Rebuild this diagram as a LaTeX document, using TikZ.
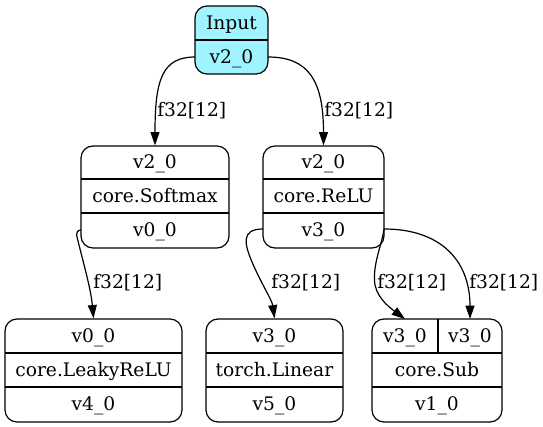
\documentclass[tikz,border=0pt]{standalone}
\usepackage{fontspec}
\setmainfont{DejaVu Serif}
\usetikzlibrary{arrows.meta,fit}
\definecolor{inpfill}{RGB}{160,244,255}
\begin{document}
\begin{tikzpicture}[x=0.75pt,y=-0.75pt,
  font=\fontsize{14pt}{16pt}\selectfont,
  box/.style={draw,line width=0.9pt,rounded corners=9pt,inner sep=0pt},
  sep/.style={line width=0.9pt},
  txt/.style={inner sep=0pt,anchor=base},
  lab/.style={inner sep=0pt,anchor=base west},
  edge/.style={line width=0.9pt,-{Triangle[length=10pt,width=6.7pt]}}]
\useasboundingbox (0,0) rectangle (543,427);
% Input
\node[box,fill=inpfill,fit={(195,6) (268,74)}] (inp) {};
\draw[sep] (195,40) -- (268,40);
\node[txt] (inpA) at (231.5,29.5) {Input};
\node[txt] (inpB) at (231.5,63.5) {v2\_0};
% Softmax
\node[box,fit={(81,146) (229,248)}] (sm) {};
\draw[sep] (81,179) -- (229,179);
\draw[sep] (81,213) -- (229,213);
\node[txt] (smA) at (155,169) {v2\_0};
\node[txt] (smB) at (155,202.5) {core.Softmax};
\node[txt] (smC) at (155,237) {v0\_0};
% ReLU
\node[box,fit={(263,146) (384,248)}] (re) {};
\draw[sep] (263,179) -- (384,179);
\draw[sep] (263,213) -- (384,213);
\node[txt] (reA) at (323.5,169) {v2\_0};
\node[txt] (reB) at (323.5,202.5) {core.ReLU};
\node[txt] (reC) at (323.5,237) {v3\_0};
% LeakyReLU
\node[box,fit={(5,319) (182,422)}] (lk) {};
\draw[sep] (5,353) -- (182,353);
\draw[sep] (5,387) -- (182,387);
\node[txt] (lkA) at (93.5,342.5) {v0\_0};
\node[txt] (lkB) at (93.5,376.5) {core.LeakyReLU};
\node[txt] (lkC) at (93.5,411) {v4\_0};
% Linear
\node[box,fit={(206,319) (343,422)}] (ln) {};
\draw[sep] (206,353) -- (343,353);
\draw[sep] (206,387) -- (343,387);
\node[txt] (lnA) at (274.5,342.5) {v3\_0};
\node[txt] (lnB) at (274.5,376.5) {torch.Linear};
\node[txt] (lnC) at (274.5,411) {v5\_0};
% Sub
\node[box,fit={(372,319) (502,422)}] (sb) {};
\draw[sep] (372,353) -- (502,353);
\draw[sep] (372,387) -- (502,387);
\draw[sep] (438,319) -- (438,353);
\node[txt] (sbA) at (405,342.5) {v3\_0};
\node[txt] (sbA2) at (470,342.5) {v3\_0};
\node[txt] (sbB) at (437,376.5) {core.Sub};
\node[txt] (sbC) at (437,411) {v1\_0};
\coordinate (sbP1) at (405,319);
\coordinate (sbP2) at (470,319);
\coordinate (inpW) at (195,57);
\coordinate (inpE) at (268,57);
\coordinate (smW) at (81,230);
\coordinate (reW) at (263,229);
\coordinate (reE) at (384,229);
% edges
\draw[edge] (inpW) .. controls (162,57) and (155,80) .. (sm.north);
\draw[edge] (inpE) .. controls (308,57) and (323.5,80) .. (re.north);
\draw[edge] (smW) .. controls (74,231) and (77,236) .. (79,245) .. controls (84,265) and (91,290) .. (lk.north);
\draw[edge] (reW) .. controls (240,229) and (245,245) .. (252,262) .. controls (262,285) and (272,300) .. (ln.north);
\draw[edge] (reE) .. controls (382,245) and (372,265) .. (375,285) .. controls (378,300) and (393,310) .. (sbP1);
\draw[edge] (reE) .. controls (440,229) and (470,260) .. (sbP2);
% labels
\node[lab] (l1) at (157,117) {f32[12]};
\node[lab] (l2) at (324,117) {f32[12]};
\node[lab] (l3) at (93,289) {f32[12]};
\node[lab] (l4) at (271,289) {f32[12]};
\node[lab] (l5) at (377,289) {f32[12]};
\node[lab] (l6) at (469,289) {f32[12]};
\end{tikzpicture}
\end{document}
